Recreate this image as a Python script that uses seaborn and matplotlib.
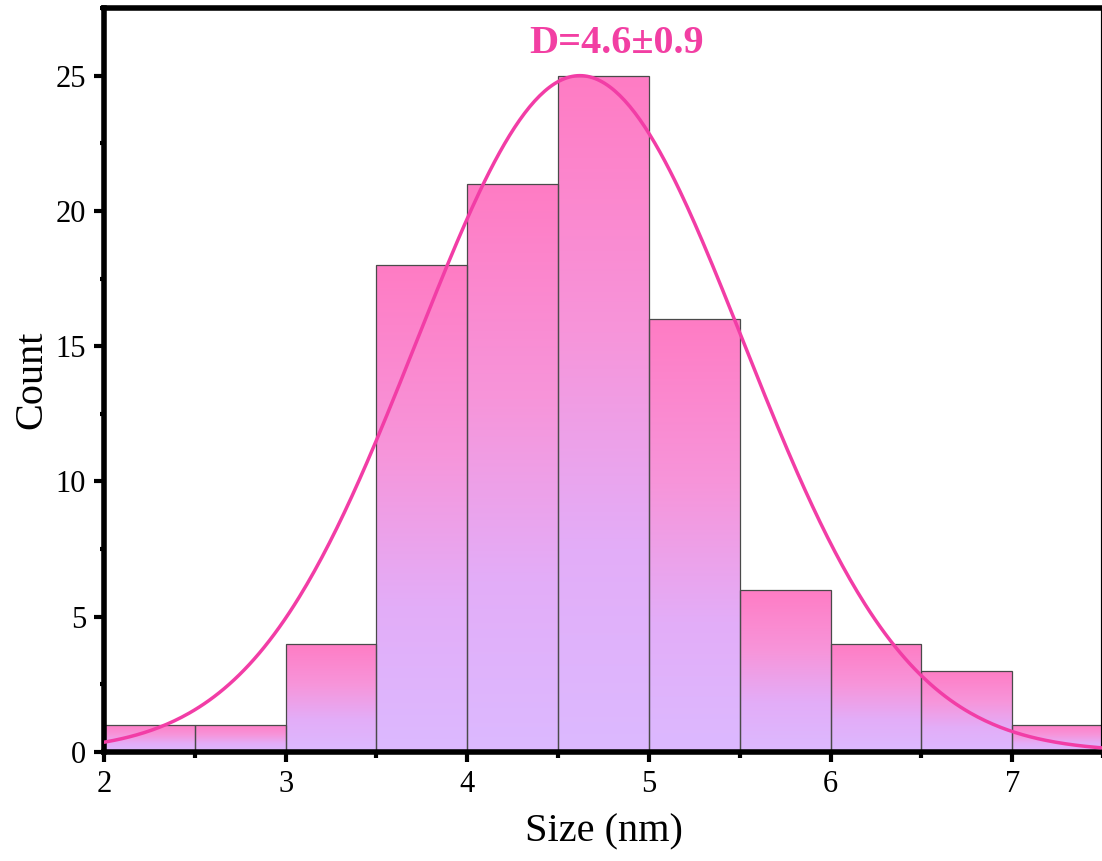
import numpy as np
import pandas as pd
import matplotlib
matplotlib.use("Agg")
import matplotlib.pyplot as plt
from matplotlib.colors import LinearSegmentedColormap
from matplotlib.ticker import MultipleLocator
import seaborn as sns

# ---- data ----
bin_edges = [2.0, 2.5, 3.0, 3.5, 4.0, 4.5, 5.0, 5.5, 6.0, 6.5, 7.0, 7.5]
counts = [1, 1, 4, 18, 21, 25, 16, 6, 4, 3, 1]
fit_mean = 4.62
fit_sigma = 0.9
fit_amplitude = 25.0
label_text = "D=4.6±0.9"
x_ticks = [2, 3, 4, 5, 6, 7]
y_ticks = [0, 5, 10, 15, 20, 25]

sns.set_style("ticks")
plt.rcParams['font.family'] = ['Liberation Serif', 'DejaVu Serif']
plt.rcParams['text.color'] = 'black'
plt.rcParams['axes.labelcolor'] = 'black'
plt.rcParams['xtick.color'] = 'black'
plt.rcParams['ytick.color'] = 'black'

W, H = 1102, 861
fig = plt.figure(figsize=(W / 100, H / 100), dpi=100)
ax = fig.add_axes([104 / W, 1 - 752 / H, (1103 - 104) / W, (752 - 8) / H])

centers = [(a + b) / 2 for a, b in zip(bin_edges[:-1], bin_edges[1:])]
df = pd.DataFrame({"size": centers, "count": counts})
sns.histplot(data=df, x="size", weights="count", bins=bin_edges, ax=ax,
             stat="count", edgecolor="#4a4a4a", linewidth=0.9,
             facecolor="none", alpha=1, zorder=2)

cmap = LinearSegmentedColormap.from_list(
    "pinkgrad", [(0.0, "#DCB9FF"), (0.3, "#E3ADF8"), (0.62, "#F795DA"), (1.0, "#FF7CC4")])
grad = np.linspace(1, 0, 256).reshape(-1, 1)
for p in list(ax.patches):
    x0, y0 = p.get_x(), p.get_y()
    w, h = p.get_width(), p.get_height()
    if h <= 0:
        continue
    im = ax.imshow(grad, cmap=cmap, vmin=0, vmax=1, aspect="auto",
                   extent=[x0, x0 + w, y0, y0 + h], origin="upper",
                   interpolation="bilinear", zorder=1)
    im.set_clip_path(p)
    p.set_facecolor("none")

xs = np.linspace(2.0, 7.5, 400)
ys = fit_amplitude * np.exp(-(xs - fit_mean) ** 2 / (2 * fit_sigma ** 2))
sns.lineplot(x=xs, y=ys, ax=ax, color="#F23DA6", linewidth=2.5, zorder=3)

ax.text(4.82, 26.2, label_text, color="#F23FA3", fontsize=29,
        fontweight="bold", ha="center", va="center")

ax.set_xlim(2.0, 7.5)
ax.set_ylim(0, 27.5)
ax.set_xticks(x_ticks)
ax.set_yticks(y_ticks)
ax.xaxis.set_minor_locator(MultipleLocator(0.5))
ax.yaxis.set_minor_locator(MultipleLocator(2.5))
ax.tick_params(axis="both", which="major", direction="out", length=7, width=3,
               labelsize=22, color="black", labelcolor="black", pad=6)
ax.tick_params(axis="x", which="minor", direction="out", length=4, width=3)
ax.tick_params(axis="y", which="minor", direction="out", length=3, width=3)
ax.tick_params(top=False, right=False, which="both")

for side in ["left", "bottom", "top"]:
    ax.spines[side].set_linewidth(4)
    ax.spines[side].set_color("black")
ax.spines["right"].set_linewidth(3)
ax.spines["right"].set_color("black")
for s in ax.spines.values():
    s.set_visible(True)

ax.set_xlabel("Size (nm)", fontsize=29, labelpad=10, color="black")
ax.set_ylabel("Count", fontsize=29, labelpad=4, color="black")

fig.savefig("out.png", dpi=100)
